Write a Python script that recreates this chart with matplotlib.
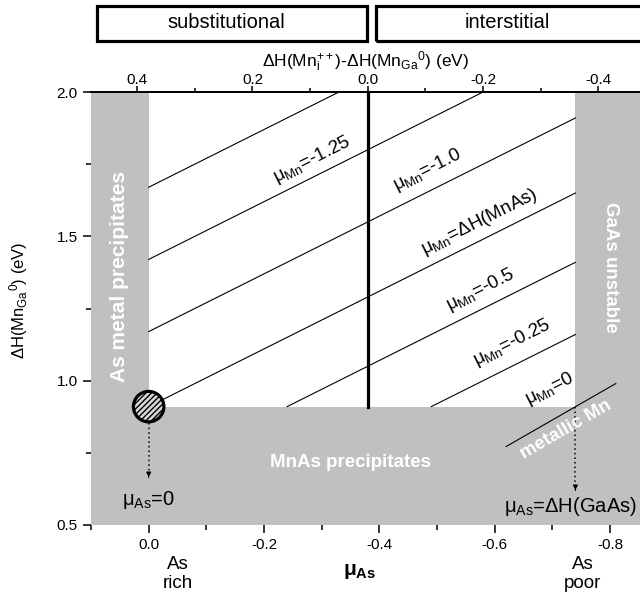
import numpy as np
import matplotlib
matplotlib.use('Agg')
import matplotlib.pyplot as plt
from matplotlib.patches import Rectangle

plt.rcParams['font.family'] = ['Liberation Sans', 'DejaVu Sans']
plt.rcParams['mathtext.fontset'] = 'custom'
plt.rcParams['mathtext.rm'] = 'Liberation Sans'
plt.rcParams['mathtext.it'] = 'Liberation Sans:italic'
plt.rcParams['mathtext.bf'] = 'Liberation Sans:bold'
plt.rcParams['axes.unicode_minus'] = False

###############################################################################
# data (eV)
dH_GaAs = -0.74            # As poor limit of mu_As
dH_MnAs = -0.74
C0 = 0.17                  # dH(Mn_Ga0) = C0 - mu_Mn - mu_As
dH_floor = C0 - dH_MnAs    # below this: MnAs precipitates
top_offset = 0.38          # dH(Mn_i++) - dH(Mn_Ga0) = mu_As + top_offset

mu_Mn_lines = [-1.5, -1.25, -1.0, dH_MnAs, -0.5, -0.25]

metallic_x = [-0.62, -0.81]
metallic_y = [0.772, 0.99]

label_text = ['=-1.25', '=-1.0', '=ΔH(MnAs)', '=-0.5', '=-0.25', '=0']
label_x = [-0.284, -0.484, -0.574, -0.576, -0.631, -0.695]
label_y = [1.765, 1.730, 1.550, 1.314, 1.131, 0.971]

xlim = (0.1, -0.852)
ylim = (0.5, 2.0)
###############################################################################

gray = '#c0c0c0'
fig = plt.figure(figsize=(6.4, 5.97), dpi=100)
ax = fig.add_axes([91/640., 1-525/597., (640-91)/640., 433/597.])
ax.set_xlim(*xlim)
ax.set_ylim(*ylim)

# forbidden regions
ax.axvspan(0.0, 0.2, color=gray, lw=0, zorder=0)
ax.axvspan(dH_GaAs, -1.0, color=gray, lw=0, zorder=0)
ax.axhspan(0.0, dH_floor, color=gray, lw=0, zorder=0)

# iso-mu_Mn lines clipped to the allowed window
for m in mu_Mn_lines:
    k = C0 - m
    x0 = min(0.0, k - dH_floor)
    x1 = max(dH_GaAs, k - ylim[1])
    xs = np.array([x0, x1])
    ax.plot(xs, k - xs, color='black', lw=0.8, zorder=2)

ax.plot(metallic_x, metallic_y, color='black', lw=0.8, zorder=2)

# substitutional / interstitial boundary
ax.plot([-top_offset, -top_offset], [dH_floor, ylim[1]], color='black', lw=2.3, zorder=3)

# hatched corner point
ax.scatter([0.0], [dH_floor], s=480, facecolor='#d8d8d8', edgecolor='black',
           hatch='//////', linewidths=2.3, zorder=5, clip_on=False)

# dotted arrows
for xa, ya0, ya1 in [(0.0, 0.855, 0.656), (dH_GaAs, dH_floor, 0.611)]:
    ax.plot([xa, xa], [ya0, ya1 + 0.015], color='black', lw=1.1, ls=(0, (1, 2)), zorder=4)
    ax.annotate('', xy=(xa, ya1), xytext=(xa, ya1 + 0.02),
                arrowprops=dict(arrowstyle='-|>', color='black', lw=0.8, mutation_scale=7))

# slope of lines on screen
p0 = ax.transData.transform((0.0, 1.0))
p1 = ax.transData.transform((-0.1, 1.1))
ang = np.degrees(np.arctan2(p1[1] - p0[1], p1[0] - p0[0]))

for t, lx, ly in zip(label_text, label_x, label_y):
    ax.text(lx, ly, 'μ$_{\\mathrm{Mn}}$' + t, fontsize=13.5, rotation=ang,
            rotation_mode='anchor', ha='center', va='center', zorder=6)

# region labels
wkw = dict(color='white', fontweight='bold', ha='center', va='center', zorder=6)
ax.text(0.05, 1.36, 'As metal precipitates', rotation=90, fontsize=15, **wkw)
ax.text(-0.80, 1.394, 'GaAs unstable', rotation=270, fontsize=13.5, **wkw)
ax.text(-0.350, 0.715, 'MnAs precipitates', fontsize=13.5, **wkw)
ax.text(-0.723, 0.829, 'metallic Mn', rotation=30, rotation_mode='anchor', fontsize=13.5, **wkw)

ax.text(0.0, 0.587, 'μ$_{\\mathrm{As}}$=0', fontsize=14.5, ha='center', va='center', zorder=6)
ax.text(-0.732, 0.5625, 'μ$_{\\mathrm{As}}$=ΔH(GaAs)', fontsize=14.5, ha='center', va='center', zorder=6)
ax.text(-0.05, 0.330, 'As\nrich', fontsize=13.5, ha='center', va='center', clip_on=False)
ax.text(-0.753, 0.330, 'As\npoor', fontsize=13.5, ha='center', va='center', clip_on=False)

# axes / ticks
for s in ['left', 'bottom', 'right']:
    ax.spines[s].set_visible(False)
ax.spines['top'].set_linewidth(1.3)
ax.set_xticks([0.0, -0.2, -0.4, -0.6, -0.8])
ax.set_xticks(np.arange(0.1, -0.85, -0.2), minor=True)
ax.set_yticks([0.5, 1.0, 1.5, 2.0])
ax.set_yticks([0.75, 1.25, 1.75], minor=True)
ax.xaxis.set_major_formatter(matplotlib.ticker.FormatStrFormatter('%.1f'))
ax.yaxis.set_major_formatter(matplotlib.ticker.FormatStrFormatter('%.1f'))
ax.tick_params(axis='both', which='major', direction='out', length=6, width=1.1, labelsize=11)
ax.tick_params(axis='both', which='minor', direction='out', length=3.5, width=1.1)

ax.set_xlabel('μ$_{\\mathbf{As}}$', fontsize=15, fontweight='bold')
ax.xaxis.set_label_coords(0.49, -0.085)
ax.set_ylabel('ΔH(Mn$_{\\mathrm{Ga}}$$^{0}$) (eV)', fontsize=12)
ax.yaxis.set_label_coords(-0.112, 0.52)

secax = ax.secondary_xaxis('top', functions=(lambda x: x + top_offset, lambda x: x - top_offset))
secax.set_xticks([0.4, 0.2, 0.0, -0.2, -0.4])
secax.set_xticks([0.3, 0.1, -0.1, -0.3], minor=True)
secax.xaxis.set_major_formatter(matplotlib.ticker.FormatStrFormatter('%.1f'))
secax.tick_params(axis='x', which='major', direction='out', length=4.5, width=1.1,
                  labelsize=11, pad=-1)
secax.tick_params(axis='x', which='minor', direction='out', length=3, width=1.1)
secax.spines['top'].set_linewidth(1.3)
secax.set_xlabel('ΔH(Mn$_{\\mathrm{i}}^{++}$)-ΔH(Mn$_{\\mathrm{Ga}}$$^{0}$) (eV)',
                 fontsize=12.5, labelpad=4.5)

# top boxes
fig.add_artist(Rectangle((97/640., 1-41/597.), 270/640., 35/597., transform=fig.transFigure,
                         fill=False, lw=2.3, ec='black'))
fig.add_artist(Rectangle((376/640., 1-41/597.), 300/640., 35/597., transform=fig.transFigure,
                         fill=False, lw=2.3, ec='black'))
fig.text(226/640., 1-23/597., 'substitutional', fontsize=14.5, ha='center', va='center')
fig.text(507/640., 1-23/597., 'interstitial', fontsize=14.5, ha='center', va='center')

plt.savefig('out.png', dpi=100)
